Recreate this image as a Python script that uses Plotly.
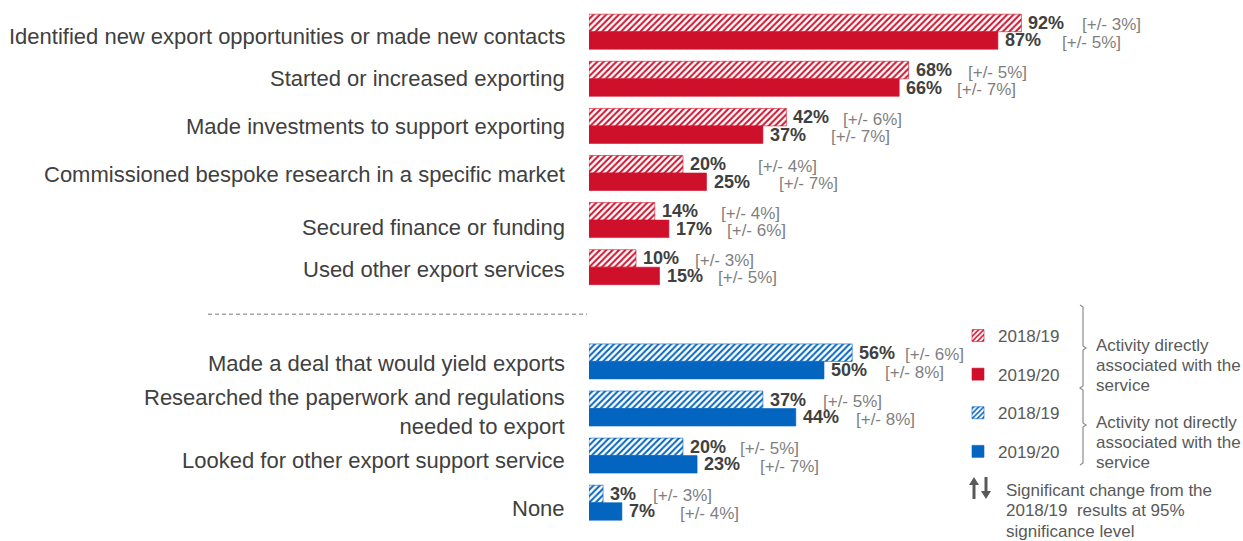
import plotly.graph_objects as go

# ---------------------------------------------------------------- data
top_labels = [
    "Identified new export opportunities or made new contacts",
    "Started or increased exporting",
    "Made investments to support exporting",
    "Commissioned bespoke research in a specific market",
    "Secured finance or funding",
    "Used other export services",
]
bottom_labels = [
    "Made a deal that would yield exports",
    "Researched the paperwork and regulations<br>needed to export",
    "Looked for other export support service",
    "None",
]
years = ["2018/19", "2019/20"]

top_2018 = [92, 68, 42, 20, 14, 10]
top_2019 = [87, 66, 37, 25, 17, 15]
top_moe_2018 = [3, 5, 6, 4, 4, 3]
top_moe_2019 = [5, 7, 7, 7, 6, 5]

bottom_2018 = [56, 37, 20, 3]
bottom_2019 = [50, 44, 23, 7]
bottom_moe_2018 = [6, 5, 5, 3]
bottom_moe_2019 = [8, 8, 7, 4]

group_notes = [
    ["Activity directly", "associated with the", "service"],
    ["Activity not directly", "associated with the", "service"],
]
sig_note = ["Significant change from the", "2018/19  results at 95%", "significance level"]

# ---------------------------------------------------------------- layout constants
W, H = 1243, 541
PLOT_LEFT = 589                 # left edge of the bar area (px)
PX_PER_PCT = 4.7
ROW_PX = 47.1
FIRST_ROW_PX = 31.7
BAR_W = 17.5 / ROW_PX           # single bar thickness in row units
PLOT_W = W - PLOT_LEFT

top_pos = list(range(len(top_labels)))
sep_pos = len(top_labels)
bottom_pos = [sep_pos + 1 + i for i in range(len(bottom_labels))]

# nudges for the category text (px, downward) and the gap between bar end and "[+/- n%]" (px)
top_label_nudge = [5, 0, 1, 1, 7, 2]
bottom_label_nudge = [2, 3, 5, 6]
top_moe_gap_2018 = [61, 59, 57, 75, 66, 59]
top_moe_gap_2019 = [64, 58, 68, 72, 58, 58]
bottom_moe_gap_2018 = [53, 60, 57, 50]
bottom_moe_gap_2019 = [61, 60, 63, 58]

RED = "#CF102B"
BLUE = "#0465C0"
TEXT = "#404040"
GREY = "#7F7F7F"
NOTE = "#595959"
FONT = "Liberation Sans, Arial, sans-serif"


def px_x(px):
    return (px - PLOT_LEFT) / PLOT_W


def px_y(py):
    return 1 - py / H


def bar_trace(values, pos, color, hatched, name, group):
    marker = dict(color=color, line=dict(color=color, width=0.6))
    if hatched:
        marker["pattern"] = dict(shape="/", fgcolor=color, bgcolor="white",
                                 size=4.5, solidity=0.45, fillmode="replace")
    return go.Bar(
        x=values, y=pos, orientation="h",
        width=BAR_W, offset=-BAR_W if hatched else 0,
        marker=marker, name=name, legendgroup=group,
        hovertemplate="%{x}%<extra>" + name + "</extra>",
    )


fig = go.Figure()
fig.add_trace(bar_trace(top_2018, top_pos, RED, True, years[0], "r18"))
fig.add_trace(bar_trace(top_2019, top_pos, RED, False, years[1], "r19"))
fig.add_trace(bar_trace(bottom_2018, bottom_pos, BLUE, True, years[0], "b18"))
fig.add_trace(bar_trace(bottom_2019, bottom_pos, BLUE, False, years[1], "b19"))

annotations = []

# category labels
for lab, p, nud in list(zip(top_labels, top_pos, top_label_nudge)) + \
        list(zip(bottom_labels, bottom_pos, bottom_label_nudge)):
    annotations.append(dict(
        x=0, xref="paper", y=p, yref="y", xanchor="right", yanchor="middle",
        xshift=-22, yshift=-nud, text=lab, showarrow=False, align="right",
        font=dict(family=FONT, size=22, color=TEXT),
    ))


# value labels and margins of error
def add_value_labels(values, moes, gaps, pos, hatched):
    for v, m, g, p in zip(values, moes, gaps, pos):
        yc = p - BAR_W / 2 if hatched else p + BAR_W / 2
        annotations.append(dict(
            x=v, xref="x", y=yc, yref="y", xanchor="left", yanchor="middle",
            xshift=5, text=f"<b>{v}%</b>", showarrow=False,
            font=dict(family=FONT, size=18, color=TEXT),
        ))
        annotations.append(dict(
            x=v, xref="x", y=yc, yref="y", xanchor="left", yanchor="middle",
            xshift=g - 2, yshift=-2, text=f"[+/- {m}%]", showarrow=False,
            font=dict(family=FONT, size=17, color=GREY),
        ))


add_value_labels(top_2018, top_moe_2018, top_moe_gap_2018, top_pos, True)
add_value_labels(top_2019, top_moe_2019, top_moe_gap_2019, top_pos, False)
add_value_labels(bottom_2018, bottom_moe_2018, bottom_moe_gap_2018, bottom_pos, True)
add_value_labels(bottom_2019, bottom_moe_2019, bottom_moe_gap_2019, bottom_pos, False)

# legend group notes
for lines, y0 in zip(group_notes, [345, 422]):
    for i, t in enumerate(lines):
        annotations.append(dict(
            x=px_x(1094), xref="paper", y=px_y(y0 + 20 * i), yref="paper",
            xanchor="left", yanchor="middle", text=t, showarrow=False,
            font=dict(family=FONT, size=17, color=NOTE),
        ))
for i, t in enumerate(sig_note):
    annotations.append(dict(
        x=px_x(1004), xref="paper", y=px_y(490 + 20.5 * i), yref="paper",
        xanchor="left", yanchor="middle", text=t, showarrow=False,
        font=dict(family=FONT, size=17, color=NOTE),
    ))

shapes = []
# dashed separator between the two activity groups
shapes.append(dict(
    type="line", xref="paper", yref="y", x0=px_x(208), x1=px_x(587), y0=sep_pos, y1=sep_pos,
    line=dict(color="#A6A6A6", width=1.5, dash="4px,3px"),
))


def path(points):
    return "M" + "L".join(f"{px_x(x):.5f},{px_y(y):.5f}" for x, y in points)


# brace joining the legend entries to their notes
bx = 1083
shapes.append(dict(
    type="path", xref="paper", yref="paper",
    path=path([(bx - 3, 305), (bx, 307), (bx, 346), (bx + 3, 348), (bx, 350), (bx, 386),
               (bx - 3, 388), (bx, 390), (bx, 423), (bx + 3, 425), (bx, 427), (bx, 463),
               (bx - 3, 465)]),
    line=dict(color="#8C8C8C", width=1.2),
))

# significance arrows (up and down)
ax, ay = 969, 477
up = [(ax, ay + 8), (ax + 5, ay), (ax + 10, ay + 8), (ax + 6.5, ay + 8), (ax + 6.5, ay + 22),
      (ax + 3.5, ay + 22), (ax + 3.5, ay + 8), (ax, ay + 8)]
dx = ax + 12
down = [(dx + 3.5, ay), (dx + 6.5, ay), (dx + 6.5, ay + 14), (dx + 10, ay + 14), (dx + 5, ay + 22),
        (dx, ay + 14), (dx + 3.5, ay + 14), (dx + 3.5, ay)]
for pts in (up, down):
    shapes.append(dict(type="path", xref="paper", yref="paper", path=path(pts) + "Z",
                       fillcolor=NOTE, line=dict(color=NOTE, width=0)))

fig.update_layout(
    width=W, height=H,
    margin=dict(l=PLOT_LEFT, r=0, t=0, b=0),
    paper_bgcolor="white", plot_bgcolor="white",
    barmode="overlay",
    xaxis=dict(range=[0, PLOT_W / PX_PER_PCT], visible=False, fixedrange=True),
    yaxis=dict(range=[(H - FIRST_ROW_PX) / ROW_PX, -FIRST_ROW_PX / ROW_PX],
               visible=False, fixedrange=True),
    showlegend=True,
    legend=dict(
        x=px_x(958), y=px_y(318), xanchor="left", yanchor="top",
        traceorder="grouped", tracegroupgap=13.5,
        font=dict(family=FONT, size=17, color=NOTE),
        bgcolor="rgba(0,0,0,0)", itemclick=False, itemdoubleclick=False,
    ),
    annotations=annotations,
    shapes=shapes,
    font=dict(family=FONT),
)

fig.write_html("out.html")
